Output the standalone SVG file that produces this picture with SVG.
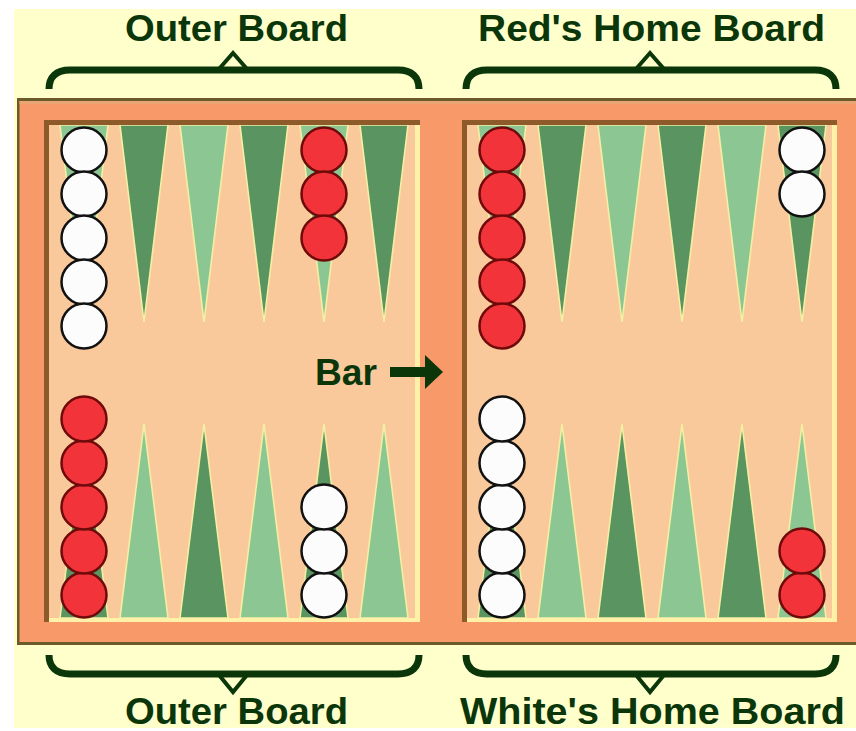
<svg xmlns="http://www.w3.org/2000/svg" width="856" height="731" viewBox="0 0 856 731">
<defs>
<style>
.lbl{font-family:"Liberation Sans",Arial,sans-serif;font-weight:bold;font-size:36px;fill:#0a360a}
.brace{fill:none;stroke:#0a360a;stroke-width:7;stroke-linecap:butt}
.caret{fill:none;stroke:#0a360a;stroke-width:4}
.dk{fill:#5a9460;stroke:#f4efa2;stroke-width:1.6}
.lt{fill:#8cc793;stroke:#f4efa2;stroke-width:1.6}
.w{fill:#fcfcfc;stroke:#111;stroke-width:2.5}
.r{fill:#f2343a;stroke:#6e0a0a;stroke-width:2.5}
</style>
</defs>
<rect x="0" y="0" width="856" height="731" fill="#ffffff"/>
<rect x="14" y="9" width="842" height="719" fill="#ffffcc"/>

<g id="frame">
<rect x="17" y="98" width="845" height="547" fill="#6b5a2a"/>
<rect x="19.5" y="101" width="842" height="541" fill="#f8996a"/>
<rect x="19.5" y="101" width="842" height="3" fill="#e9a574"/>
</g>

<g id="left-board">
<rect x="44" y="120" width="376" height="502" fill="#f9c99c"/>
<g id="left-top-points">
<path class="lt" d="M60,125 L108,125 L84,322 Z"/>
<path class="dk" d="M120,125 L168,125 L144,322 Z"/>
<path class="lt" d="M180,125 L228,125 L204,322 Z"/>
<path class="dk" d="M240,125 L288,125 L264,322 Z"/>
<path class="lt" d="M300,125 L348,125 L324,322 Z"/>
<path class="dk" d="M360,125 L408,125 L384,322 Z"/>
</g>
<g id="left-bottom-points">
<path class="dk" d="M60,618 L108,618 L84,424 Z"/>
<path class="lt" d="M120,618 L168,618 L144,424 Z"/>
<path class="dk" d="M180,618 L228,618 L204,424 Z"/>
<path class="lt" d="M240,618 L288,618 L264,424 Z"/>
<path class="dk" d="M300,618 L348,618 L324,424 Z"/>
<path class="lt" d="M360,618 L408,618 L384,424 Z"/>
</g>
<rect x="44" y="120" width="376" height="5" fill="#8e5a2a"/>
<rect x="44" y="120" width="5" height="502" fill="#8e5a2a"/>
<rect x="49" y="618" width="371" height="4" fill="#fff2a8"/>
<rect x="415" y="125" width="5" height="497" fill="#fff2a8"/>
</g>

<g id="right-board">
<rect x="462" y="120" width="375" height="502" fill="#f9c99c"/>
<g id="right-top-points">
<path class="lt" d="M478,125 L526,125 L502,322 Z"/>
<path class="dk" d="M538,125 L586,125 L562,322 Z"/>
<path class="lt" d="M598,125 L646,125 L622,322 Z"/>
<path class="dk" d="M658,125 L706,125 L682,322 Z"/>
<path class="lt" d="M718,125 L766,125 L742,322 Z"/>
<path class="dk" d="M778,125 L826,125 L802,322 Z"/>
</g>
<g id="right-bottom-points">
<path class="dk" d="M478,618 L526,618 L502,424 Z"/>
<path class="lt" d="M538,618 L586,618 L562,424 Z"/>
<path class="dk" d="M598,618 L646,618 L622,424 Z"/>
<path class="lt" d="M658,618 L706,618 L682,424 Z"/>
<path class="dk" d="M718,618 L766,618 L742,424 Z"/>
<path class="lt" d="M778,618 L826,618 L802,424 Z"/>
</g>
<rect x="462" y="120" width="375" height="5" fill="#8e5a2a"/>
<rect x="462" y="120" width="5" height="502" fill="#8e5a2a"/>
<rect x="467" y="618" width="370" height="4" fill="#fff2a8"/>
<rect x="832" y="125" width="5" height="497" fill="#fff2a8"/>
</g>

<g id="checkers">
<g id="white-left-top">
<circle class="w" cx="84" cy="150" r="22.5"/>
<circle class="w" cx="84" cy="194" r="22.5"/>
<circle class="w" cx="84" cy="238" r="22.5"/>
<circle class="w" cx="84" cy="282" r="22.5"/>
<circle class="w" cx="84" cy="326" r="22.5"/>
</g>
<g id="red-left-top">
<circle class="r" cx="324" cy="150" r="22.5"/>
<circle class="r" cx="324" cy="194" r="22.5"/>
<circle class="r" cx="324" cy="238" r="22.5"/>
</g>
<g id="red-left-bottom">
<circle class="r" cx="84" cy="595" r="22.5"/>
<circle class="r" cx="84" cy="551" r="22.5"/>
<circle class="r" cx="84" cy="507" r="22.5"/>
<circle class="r" cx="84" cy="463" r="22.5"/>
<circle class="r" cx="84" cy="419" r="22.5"/>
</g>
<g id="white-left-bottom">
<circle class="w" cx="324" cy="595" r="22.5"/>
<circle class="w" cx="324" cy="551" r="22.5"/>
<circle class="w" cx="324" cy="507" r="22.5"/>
</g>
<g id="red-right-top">
<circle class="r" cx="502" cy="150" r="22.5"/>
<circle class="r" cx="502" cy="194" r="22.5"/>
<circle class="r" cx="502" cy="238" r="22.5"/>
<circle class="r" cx="502" cy="282" r="22.5"/>
<circle class="r" cx="502" cy="326" r="22.5"/>
</g>
<g id="white-right-top">
<circle class="w" cx="802" cy="150" r="22.5"/>
<circle class="w" cx="802" cy="194" r="22.5"/>
</g>
<g id="white-right-bottom">
<circle class="w" cx="502" cy="595" r="22.5"/>
<circle class="w" cx="502" cy="551" r="22.5"/>
<circle class="w" cx="502" cy="507" r="22.5"/>
<circle class="w" cx="502" cy="463" r="22.5"/>
<circle class="w" cx="502" cy="419" r="22.5"/>
</g>
<g id="red-right-bottom">
<circle class="r" cx="802" cy="595" r="22.5"/>
<circle class="r" cx="802" cy="551" r="22.5"/>
</g>
</g>

<g id="braces">
<path class="brace" d="M49,89 C49,77 56,70 70,70 L398,70 C412,70 419,77 419,89"/>
<path class="caret" d="M219,69 L233,53 L247,69"/>
<path class="brace" d="M466,89 C466,77 473,70 487,70 L815,70 C829,70 836,77 836,89"/>
<path class="caret" d="M636,69 L650,53 L664,69"/>
<path class="brace" d="M49,655 C49,667 56,674 70,674 L398,674 C412,674 419,667 419,655"/>
<path class="caret" d="M219,675 L233,692 L247,675"/>
<path class="brace" d="M466,655 C466,667 473,674 487,674 L815,674 C829,674 836,667 836,655"/>
<path class="caret" d="M636,675 L650,692 L664,675"/>
</g>

<g id="labels">
<text class="lbl" x="125" y="41" textLength="223" lengthAdjust="spacingAndGlyphs">Outer Board</text>
<text class="lbl" x="478" y="41" textLength="347" lengthAdjust="spacingAndGlyphs">Red's Home Board</text>
<text class="lbl" x="125" y="724" textLength="223" lengthAdjust="spacingAndGlyphs">Outer Board</text>
<text class="lbl" x="460" y="724" textLength="385" lengthAdjust="spacingAndGlyphs">White's Home Board</text>
</g>

<g id="bar-label">
<text class="lbl" x="315" y="385" textLength="62" lengthAdjust="spacingAndGlyphs">Bar</text>
<rect x="390" y="367" width="37" height="10" fill="#0a360a"/>
<polygon points="425,355 443,372 425,389" fill="#0a360a"/>
</g>
</svg>
